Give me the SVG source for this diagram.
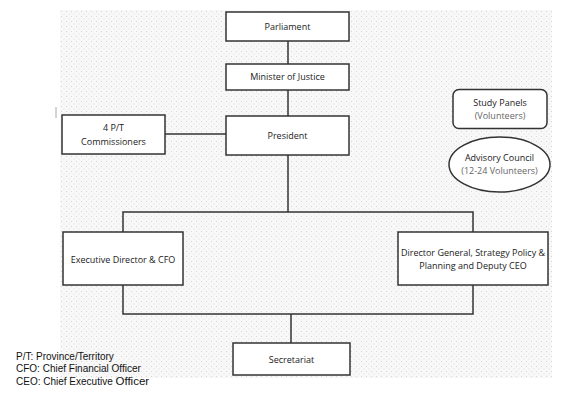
<svg xmlns="http://www.w3.org/2000/svg" width="587" height="400" viewBox="0 0 587 400">
<defs>
<pattern id="dots" width="5" height="5" patternUnits="userSpaceOnUse">
<rect width="5" height="5" fill="#f8f8f8"/>
<rect x="1" y="1" width="1" height="1" fill="#d6d6d6"/>
<rect x="3.5" y="3.5" width="1" height="1" fill="#e0e0e0"/>
</pattern>
<style>
.box{fill:#ffffff;stroke:#333333;stroke-width:1.5}
.ln{fill:none;stroke:#333333;stroke-width:1.5}
.t{font-family:"Open Sans","DejaVu Sans",sans-serif;font-size:9px;fill:#1a1a1a;text-anchor:middle}
.g{fill:#666666}
.leg{font-family:"Liberation Sans",Arial,sans-serif;font-size:10px;fill:#111111}
</style>
</defs>
<rect x="60" y="10" width="492" height="368" fill="url(#dots)"/>
<line x1="56" y1="107" x2="56" y2="118" stroke="#aaaaaa" stroke-width="1"/>
<g id="connectors">
<line class="ln" x1="288" y1="41" x2="288" y2="64"/>
<line class="ln" x1="288" y1="90" x2="288" y2="116"/>
<line class="ln" x1="165" y1="134" x2="226" y2="134"/>
<polyline class="ln" points="288,155 288,212"/>
<polyline class="ln" points="123,232 123,212 473,212 473,232"/>
<polyline class="ln" points="123,285 123,314 473,314 473,285"/>
<line class="ln" x1="291" y1="314" x2="291" y2="343"/>
</g>
<g id="parliament"><rect class="box" x="226" y="12" width="123" height="29"/><text class="t" x="287.5" y="30">Parliament</text></g>
<g id="minister"><rect class="box" x="226" y="64" width="123" height="26"/><text class="t" x="287.5" y="80">Minister of Justice</text></g>
<g id="president"><rect class="box" x="226" y="116" width="123" height="39"/><text class="t" x="287.5" y="139">President</text></g>
<g id="commissioners"><rect class="box" x="62" y="115" width="103" height="39"/><text class="t" x="113.5" y="131">4 P/T</text><text class="t" x="113.5" y="145">Commissioners</text></g>
<g id="study-panels"><rect class="box" x="453" y="89.5" width="94" height="39" rx="6"/><text class="t" x="500" y="106">Study Panels</text><text class="t g" x="500" y="119">(Volunteers)</text></g>
<g id="advisory-council"><ellipse class="box" cx="499.5" cy="164.5" rx="50.5" ry="27.5"/><text class="t" x="499.5" y="161">Advisory Council</text><text class="t g" x="499.5" y="174">(12-24 Volunteers)</text></g>
<g id="exec-director"><rect class="box" x="63" y="232" width="120" height="53"/><text class="t" x="123" y="263">Executive Director &amp; CFO</text></g>
<g id="director-general"><rect class="box" x="398" y="232" width="150" height="53"/><text class="t" x="473" y="256">Director General, Strategy Policy &amp;</text><text class="t" x="473" y="268.5">Planning and Deputy CEO</text></g>
<g id="secretariat"><rect class="box" x="233" y="343" width="117" height="32"/><text class="t" x="291.5" y="363">Secretariat</text></g>
<g id="legend">
<text class="leg" x="16" y="360">P/T: Province/Territory</text>
<text class="leg" x="16" y="372">CFO: Chief Financial Officer</text>
<text class="leg" x="16" y="384.5">CEO: Chief Executive <tspan font-size="11.5">Officer</tspan></text>
</g>
</svg>
